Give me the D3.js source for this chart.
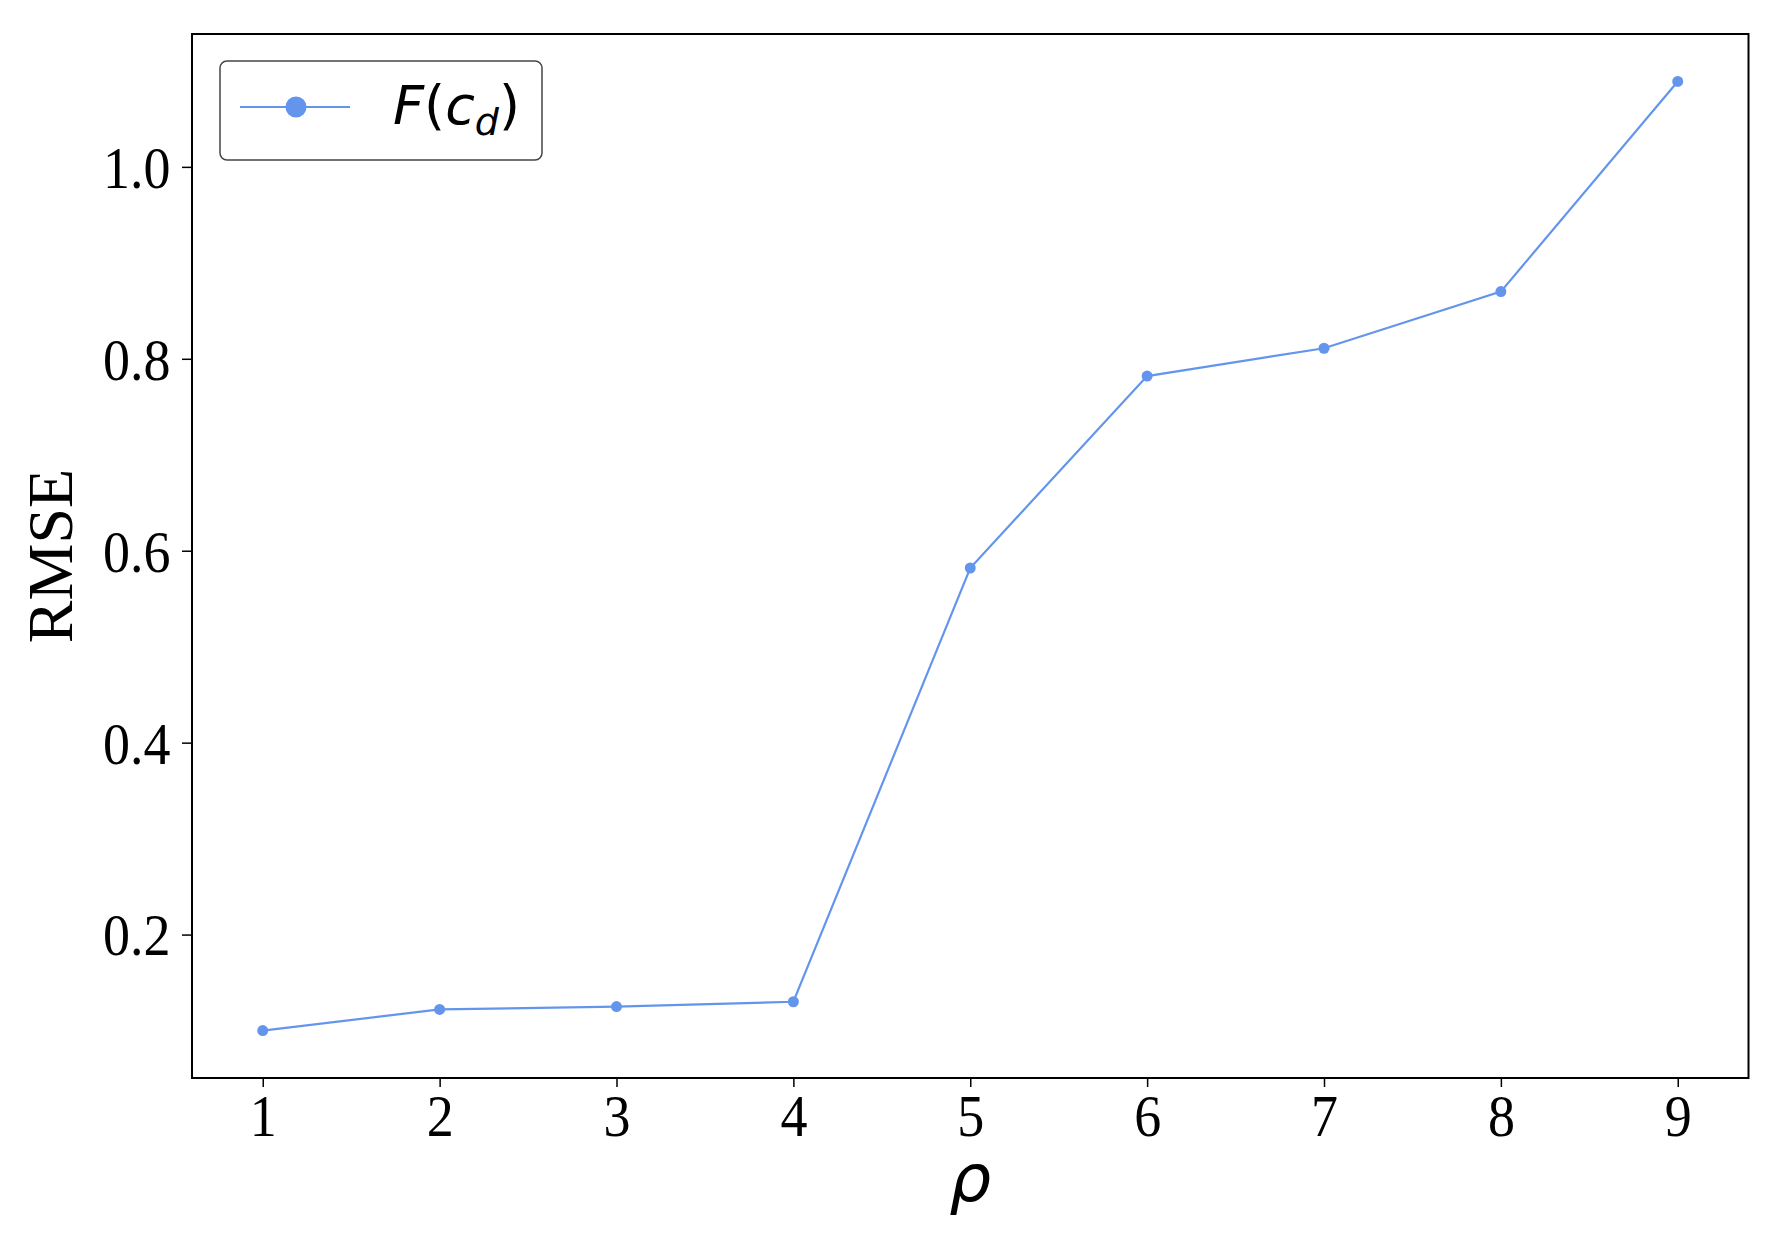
<!DOCTYPE html>
<html>
<head>
<meta charset="utf-8">
<script src="https://cdn.jsdelivr.net/npm/d3@7"></script>
<style>
  body { margin: 0; background: #fff; }
  svg { display: block; }
</style>
</head>
<body>
<div id="chart"></div>
<script>
// data
var rho = [1, 2, 3, 4, 5, 6, 7, 8, 9];
var rmse = [0.100, 0.122, 0.125, 0.130, 0.582, 0.782, 0.811, 0.870, 1.089];
var yTicks = [0.2, 0.4, 0.6, 0.8, 1.0];
var seriesName = "F(c_d)";

var width = 1770, height = 1234;
var margin = { left: 192, right: 21.5, top: 34, bottom: 156 };
var color = "#6495ED";
var serif = "'Liberation Serif', 'Times New Roman', serif";

var svg = d3.select("#chart").append("svg")
    .attr("width", width)
    .attr("height", height);

// matplotlib style 5% padding
function pad(ext) {
  var d = (ext[1] - ext[0]) * 0.05;
  return [ext[0] - d, ext[1] + d];
}

var x = d3.scaleLinear()
    .domain(pad(d3.extent(rho)))
    .range([margin.left, width - margin.right]);
var y = d3.scaleLinear()
    .domain(pad(d3.extent(rmse)))
    .range([height - margin.bottom, margin.top]);

var data = rho.map(function (r, i) { return { r: r, v: rmse[i] }; });

// axes
var xAxis = svg.append("g")
    .attr("transform", "translate(0," + (height - margin.bottom) + ")")
    .call(d3.axisBottom(x).tickValues(rho).tickSize(9).tickPadding(6).tickFormat(d3.format("d")));
var yAxis = svg.append("g")
    .attr("transform", "translate(" + margin.left + ",0)")
    .call(d3.axisLeft(y).tickValues(yTicks).tickSize(10).tickPadding(12).tickFormat(d3.format(".1f")));

[xAxis, yAxis].forEach(function (g) {
  g.select(".domain").remove();
  g.selectAll(".tick line").attr("stroke", "#000").attr("stroke-width", 1.5);
  g.selectAll(".tick text")
      .attr("fill", "#000")
      .attr("transform", "scale(0.9,1)")
      .style("font-family", serif)
      .style("font-size", "60px");
});
yAxis.selectAll(".tick text").attr("x", -24).attr("dy", "0.34em");
xAxis.selectAll(".tick text").attr("dy", "0.71em");

// frame
svg.append("rect")
    .attr("x", margin.left)
    .attr("y", margin.top)
    .attr("width", width - margin.left - margin.right)
    .attr("height", height - margin.top - margin.bottom)
    .attr("fill", "none")
    .attr("stroke", "#000")
    .attr("stroke-width", 2);

// line + markers
var line = d3.line()
    .x(function (d) { return x(d.r); })
    .y(function (d) { return y(d.v); });

svg.append("path")
    .datum(data)
    .attr("d", line)
    .attr("fill", "none")
    .attr("stroke", color)
    .attr("stroke-width", 2.2);

svg.selectAll("circle.pt")
    .data(data)
    .enter()
    .append("circle")
    .attr("class", "pt")
    .attr("cx", function (d) { return x(d.r); })
    .attr("cy", function (d) { return y(d.v); })
    .attr("r", 5.5)
    .attr("fill", color);

// axis labels
svg.append("text")
    .attr("transform", "translate(72," + ((margin.top + height - margin.bottom) / 2) + ") rotate(-90)")
    .attr("text-anchor", "middle")
    .style("font-family", serif)
    .style("font-size", "64px")
    .text("RMSE");

svg.append("text")
    .attr("x", (margin.left + width - margin.right) / 2)
    .attr("y", 1201)
    .attr("text-anchor", "middle")
    .style("font-family", "'DejaVu Sans', sans-serif")
    .style("font-style", "italic")
    .style("font-size", "66px")
    .text("ρ");

// legend
var lg = svg.append("g");
lg.append("rect")
    .attr("x", 220).attr("y", 61)
    .attr("width", 322).attr("height", 99)
    .attr("rx", 7)
    .attr("fill", "#fff")
    .attr("stroke", "#444")
    .attr("stroke-width", 1.5);
lg.append("line")
    .attr("x1", 240).attr("x2", 350)
    .attr("y1", 107).attr("y2", 107)
    .attr("stroke", color)
    .attr("stroke-width", 2.2);
lg.append("circle")
    .attr("cx", 296).attr("cy", 107)
    .attr("r", 10.5)
    .attr("fill", color);

var parts = seriesName.match(/^(F)\((c)_(d)\)$/);
var lt = lg.append("text")
    .attr("x", 393).attr("y", 124)
    .style("font-family", "'DejaVu Sans', sans-serif")
    .style("font-size", "54px");
lt.append("tspan").style("font-style", "italic").text(parts[1]);
lt.append("tspan").text("(");
lt.append("tspan").style("font-style", "italic").text(parts[2]);
lt.append("tspan").style("font-style", "italic").style("font-size", "38px").attr("dy", 11).text(parts[3]);
lt.append("tspan").attr("dy", -11).text(")");
</script>
</body>
</html>
